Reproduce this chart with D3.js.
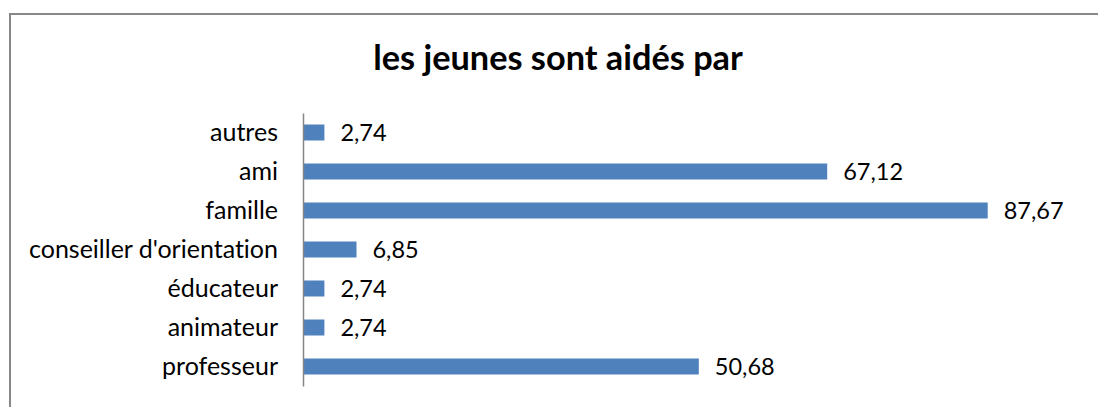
<!DOCTYPE html>
<html>
<head>
<meta charset="utf-8">
<script src="https://cdn.jsdelivr.net/npm/d3@7"></script>
<style>
  body { margin: 0; background: #fff; }
  svg { display: block; font-family: Lato, "Open Sans", sans-serif; font-variant-ligatures: none; }
</style>
</head>
<body>
<div id="wrapper"></div>
<script>
// données du graphique
const categories = ["autres", "ami", "famille", "conseiller d'orientation", "éducateur", "animateur", "professeur"];
const values = [2.74, 67.12, 87.67, 6.85, 2.74, 2.74, 50.68];
const chartTitle = "les jeunes sont aidés par";

const width = 1098, height = 407;
const margin = { top: 113, right: 14, bottom: 21, left: 303 };
const boundedWidth = width - margin.left - margin.right;
const boundedHeight = height - margin.top - margin.bottom;

const svg = d3.select("#wrapper").append("svg")
  .attr("width", width)
  .attr("height", height);

// cadre du graphique (coupé à droite et en bas)
svg.append("rect")
  .attr("x", 10).attr("y", 14)
  .attr("width", width + 20).attr("height", height + 20)
  .attr("fill", "none")
  .attr("stroke", "#888")
  .attr("stroke-width", 2);

svg.append("text")
  .attr("x", 558).attr("y", 70)
  .attr("text-anchor", "middle")
  .style("font-size", "34.3px")
  .style("font-weight", "bold")
  .text(chartTitle);

const bounds = svg.append("g")
  .attr("transform", `translate(${margin.left},${margin.top})`);

const xScale = d3.scaleLinear().domain([0, 100]).range([0, boundedWidth]);
const yScale = d3.scaleBand().domain(categories).range([0, boundedHeight]).paddingInner(0.59).paddingOuter(0.295);

bounds.selectAll("rect.bar")
  .data(values)
  .join("rect")
  .attr("class", "bar")
  .attr("x", 0)
  .attr("y", (d, i) => yScale(categories[i]))
  .attr("width", d => xScale(d))
  .attr("height", yScale.bandwidth())
  .attr("fill", "#4f81bd");

bounds.selectAll("text.val")
  .data(values)
  .join("text")
  .attr("class", "val")
  .attr("x", d => xScale(d) + 16)
  .attr("y", (d, i) => yScale(categories[i]) + yScale.bandwidth() / 2)
  .attr("dy", "0.35em")
  .style("font-size", "23.5px")
  .attr("fill", "#000")
  .text(d => d3.format(".2f")(d).replace(".", ","));

const yAxis = d3.axisLeft(yScale).tickSize(0).tickPadding(25);
bounds.append("g")
  .call(yAxis)
  .attr("font-family", null)
  .attr("font-size", null)
  .call(g => g.select(".domain").attr("stroke", "#868686").attr("stroke-width", 1.5))
  .call(g => g.selectAll("text").style("font-size", "25px").attr("fill", "#000"));
</script>
</body>
</html>
